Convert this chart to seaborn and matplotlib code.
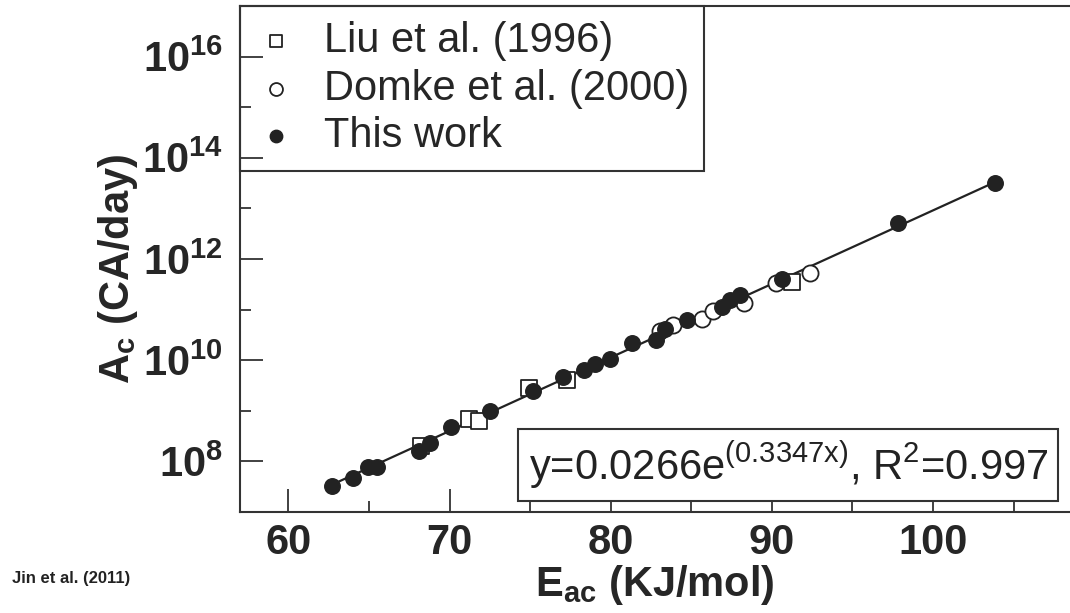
import numpy as np
import pandas as pd
import matplotlib
matplotlib.use('Agg')
import matplotlib.pyplot as plt
import seaborn as sns
from matplotlib import font_manager, ticker

# Values (x in KJ/mol, y as log10 of CA/day)
liu_x = [68.26, 71.19, 71.81, 74.92, 77.30, 91.25]
liu_logy = [8.30, 8.83, 8.79, 9.46, 9.61, 11.55]

domke_x = [83.03, 83.84, 85.68, 86.36, 88.26, 90.23, 92.36]
domke_logy = [10.58, 10.70, 10.81, 10.98, 11.14, 11.53, 11.72]

this_x = [62.71, 63.99, 64.92, 65.51, 68.09, 68.77, 70.12, 72.50, 75.21, 77.03,
          78.33, 79.01, 79.93, 81.33, 82.84, 83.40, 84.74, 86.92, 87.39, 88.01,
          90.65, 97.85, 103.84]
this_logy = [7.51, 7.67, 7.88, 7.88, 8.21, 8.36, 8.67, 9.00, 9.39, 9.66,
             9.81, 9.93, 10.02, 10.33, 10.40, 10.62, 10.80, 11.06, 11.19, 11.29,
             11.60, 12.72, 13.51]

# fitted line y = a*exp(b*x), printed on the chart
fit_a, fit_b = 0.0266, 0.3347
fit_range = [62.7, 103.8]

y_major = [8, 10, 12, 14, 16]
y_minor = [9, 11, 13, 15]

names = {f.name for f in font_manager.fontManager.ttflist}
narrow = 'Liberation Sans Narrow' if 'Liberation Sans Narrow' in names else 'Liberation Sans'

sns.set_theme(style='ticks')
plt.rcParams['font.family'] = ['Liberation Sans', 'DejaVu Sans']
plt.rcParams['mathtext.fontset'] = 'custom'
plt.rcParams['mathtext.rm'] = 'Liberation Sans'
plt.rcParams['mathtext.bf'] = narrow + ':bold'
plt.rcParams['mathtext.it'] = 'Liberation Sans:italic'

dark = '#222222'

fig = plt.figure(figsize=(10.7, 6.13), dpi=100)
ax = fig.add_axes([0.2243, 0.1648, 0.7757, 0.8254])
ax.set_yscale('log')
ax.set_axisbelow(False)

fit_df = pd.DataFrame({'x': fit_range})
fit_df['y'] = fit_a * np.exp(fit_b * fit_df['x'])
sns.lineplot(data=fit_df, x='x', y='y', color=dark, lw=1.6, ax=ax, zorder=2)

sns.scatterplot(x=liu_x, y=np.power(10.0, liu_logy), marker='s', s=120,
                color='white', edgecolor=dark, linewidth=1.3,
                label='Liu et al. (1996)', ax=ax, zorder=3)
sns.scatterplot(x=domke_x, y=np.power(10.0, domke_logy), marker='o', s=135,
                color='white', edgecolor=dark, linewidth=1.3,
                label='Domke et al. (2000)', ax=ax, zorder=3)
sns.scatterplot(x=this_x, y=np.power(10.0, this_logy), marker='o', s=125,
                color=dark, edgecolor=dark, linewidth=1.0,
                label='This work', ax=ax, zorder=4)

ax.set_xlim(57, 108.5)
ax.set_ylim(1e7, 1e17)

ax.xaxis.set_major_locator(ticker.MultipleLocator(10))
ax.xaxis.set_minor_locator(ticker.MultipleLocator(5))
ax.yaxis.set_major_locator(ticker.FixedLocator([10.0 ** e for e in y_major]))
ax.yaxis.set_minor_locator(ticker.FixedLocator([10.0 ** e for e in y_minor]))
ax.yaxis.set_major_formatter(ticker.FixedFormatter([r'$\mathbf{10^{%d}}$' % e for e in y_major]))
ax.yaxis.set_minor_formatter(ticker.NullFormatter())

ax.tick_params(which='major', direction='in', length=16.5, width=1.3, color='#333333',
               labelsize=30, pad=12)
ax.tick_params(which='minor', direction='in', length=8, width=1.3, color='#333333')
ax.tick_params(axis='x', which='both', top=False, pad=8)
ax.tick_params(axis='y', which='both', right=False)
for lab in ax.get_xticklabels():
    lab.set_family(narrow)
    lab.set_weight('bold')

for side in ['left', 'bottom', 'top']:
    ax.spines[side].set_linewidth(1.5)
    ax.spines[side].set_color('#333333')
ax.spines['right'].set_visible(False)

ax.set_xlabel(r'E$_{\mathregular{ac}}$ (KJ/mol)', fontsize=30, fontweight='bold',
              family=narrow)
ax.xaxis.set_label_coords(0.5, -0.10)
ax.xaxis.label.set_va('top')
ax.set_ylabel(r'A$_{\mathregular{c}}$ (CA/day)', fontsize=30, fontweight='bold')
ax.yaxis.set_label_coords(-0.12, 0.48)

handles, labels = ax.get_legend_handles_labels()
leg = ax.legend(handles, labels, loc='upper left', bbox_to_anchor=(0, 1),
                borderaxespad=0, frameon=True, fancybox=False, framealpha=1,
                edgecolor='#333333', fontsize=30, markerscale=0.8,
                handlelength=1.0, handletextpad=0.65, labelspacing=0.18,
                borderpad=0.36)
leg.get_frame().set_linewidth(1.5)
leg.set_zorder(2.2)

ax.text(0.9735, 0.093, r'y=0.0266e$^{\mathregular{(0.3347x)}}$, R$^{\mathregular{2}}$=0.997',
        transform=ax.transAxes, ha='right', va='center', fontsize=30, color=dark,
        bbox=dict(boxstyle='square,pad=0.25', facecolor='white', edgecolor='#333333',
                  linewidth=1.5), zorder=5)

fig.text(12 / 1070, 1 - 578 / 613, 'Jin et al. (2011)', fontsize=12,
         fontweight='bold', va='center', ha='left', color=dark)

fig.savefig('out.png', dpi=100)
